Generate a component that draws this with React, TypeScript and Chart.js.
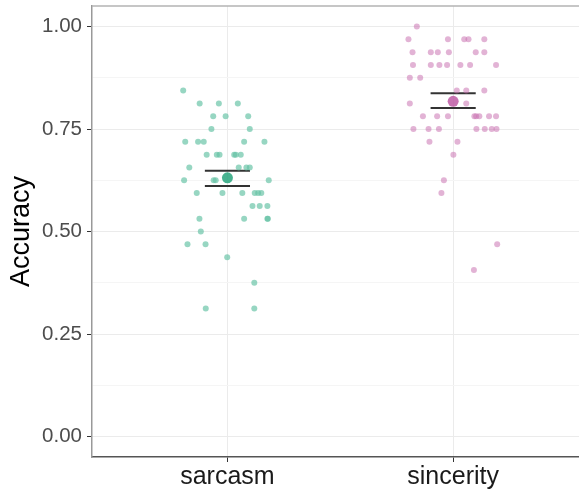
import React, { useEffect, useRef } from "react";
import { Chart, registerables } from "chart.js";

Chart.register(...registerables);

const categories = ["sarcasm", "sincerity"];
const categoryPos = [1, 2];

// jittered x positions (category units) and accuracy values
const sarcasmX = [
  0.804,
  0.877, 0.962, 1.046,
  0.937, 0.992, 1.092,
  0.929, 1.099,
  0.813, 0.870, 0.895, 1.074, 1.164,
  0.908, 0.953, 0.965, 1.030, 1.037, 1.059,
  0.831, 1.050, 1.084, 1.099,
  0.808, 0.939, 0.948, 1.183,
  0.864, 0.978, 1.066, 1.121, 1.136, 1.150,
  1.111, 1.143, 1.177,
  0.876, 1.074, 1.177, 1.179,
  0.882,
  0.823, 0.903,
  0.999,
  1.119,
  0.904, 1.119,
];
const sarcasmY = [
  0.84375,
  0.8125, 0.8125, 0.8125,
  0.78125, 0.78125, 0.78125,
  0.75, 0.75,
  0.71875, 0.71875, 0.71875, 0.71875, 0.71875,
  0.6875, 0.6875, 0.6875, 0.6875, 0.6875, 0.6875,
  0.65625, 0.65625, 0.65625, 0.65625,
  0.625, 0.625, 0.625, 0.625,
  0.59375, 0.59375, 0.59375, 0.59375, 0.59375, 0.59375,
  0.5625, 0.5625, 0.5625,
  0.53125, 0.53125, 0.53125, 0.53125,
  0.5,
  0.46875, 0.46875,
  0.4375,
  0.375,
  0.3125, 0.3125,
];

const sincerityX = [
  1.839,
  1.802, 1.977, 2.049, 2.068, 2.138,
  1.820, 1.901, 1.932, 1.981, 2.100, 2.138,
  1.822, 1.901, 1.939, 1.973, 2.032, 2.075, 2.190,
  1.808, 1.854,
  2.016, 2.058, 2.138,
  1.808, 2.058,
  1.866, 1.929, 1.977, 2.094, 2.102, 2.116, 2.159, 2.190,
  1.824, 1.891, 1.937, 2.103, 2.140, 2.171, 2.192,
  1.895, 2.019,
  2.001,
  1.959,
  1.948,
  2.195,
  2.092,
];
const sincerityY = [
  1.0,
  0.96875, 0.96875, 0.96875, 0.96875, 0.96875,
  0.9375, 0.9375, 0.9375, 0.9375, 0.9375, 0.9375,
  0.90625, 0.90625, 0.90625, 0.90625, 0.90625, 0.90625, 0.90625,
  0.875, 0.875,
  0.84375, 0.84375, 0.84375,
  0.8125, 0.8125,
  0.78125, 0.78125, 0.78125, 0.78125, 0.78125, 0.78125, 0.78125, 0.78125,
  0.75, 0.75, 0.75, 0.75, 0.75, 0.75, 0.75,
  0.71875, 0.71875,
  0.6875,
  0.625,
  0.59375,
  0.46875,
  0.40625,
];

const means = [0.631, 0.8175];
const ciLow = [0.611, 0.801];
const ciHigh = [0.648, 0.837];
const errHalfWidth = 0.1;

const yTicks = [0, 0.125, 0.25, 0.375, 0.5, 0.625, 0.75, 0.875, 1.0];

const pointColors = ["rgba(102,194,165,0.68)", "rgba(200,110,175,0.52)"];
const meanColors = ["rgba(40,165,125,0.85)", "rgba(190,90,165,0.85)"];

export default function App() {
  const ref = useRef<HTMLCanvasElement | null>(null);

  useEffect(() => {
    if (!ref.current) return;
    const toPts = (xs: number[], ys: number[]) => xs.map((x, i) => ({ x, y: ys[i] }));

    const errSets: any[] = [];
    categoryPos.forEach((c, i) => {
      [ciLow[i], ciHigh[i]].forEach((v) => {
        errSets.push({
          type: "line",
          data: [
            { x: c - errHalfWidth, y: v },
            { x: c + errHalfWidth, y: v },
          ],
          borderColor: "#333333",
          borderWidth: 2,
          pointRadius: 0,
          showLine: true,
          fill: false,
        });
      });
    });

    const topBorder = {
      id: "topBorder",
      afterDraw(chart: any) {
        const { ctx, chartArea } = chart;
        ctx.save();
        ctx.strokeStyle = "#b3b3b3";
        ctx.lineWidth = 1.5;
        ctx.beginPath();
        ctx.moveTo(chartArea.left, chartArea.top);
        ctx.lineTo(chartArea.right, chartArea.top);
        ctx.stroke();
        ctx.restore();
      },
    };

    const chart = new Chart(ref.current, {
      type: "scatter",
      data: {
        datasets: [
          {
            data: toPts(sarcasmX, sarcasmY),
            backgroundColor: pointColors[0],
            borderWidth: 0,
            pointRadius: 3,
          },
          {
            data: toPts(sincerityX, sincerityY),
            backgroundColor: pointColors[1],
            borderWidth: 0,
            pointRadius: 3,
          },
          ...errSets,
          {
            data: categoryPos.map((c, i) => ({ x: c, y: means[i] })),
            backgroundColor: meanColors,
            borderWidth: 0,
            pointRadius: 5.5,
          },
        ],
      },
      options: {
        animation: false,
        responsive: false,
        devicePixelRatio: 1,
        layout: { autoPadding: false, padding: { top: 6, right: 0, left: 0, bottom: 0 } },
        plugins: { legend: { display: false }, tooltip: { enabled: false } },
        scales: {
          x: {
            type: "linear",
            min: 0.4,
            max: 2.5575,
            afterFit: (s: any) => {
              s.height = 34;
              s.paddingLeft = 0;
              s.paddingRight = 0;
            },
            afterBuildTicks: (s: any) => {
              s.ticks = categoryPos.map((v) => ({ value: v }));
            },
            ticks: {
              callback: (v: any) => categories[categoryPos.indexOf(Number(v))] ?? "",
              color: "#1a1a1a",
              font: { family: "'Liberation Sans', Arial, sans-serif", size: 25 },
              padding: 0,
              maxRotation: 0,
            },
            grid: { color: "#ebebeb", lineWidth: 1, tickColor: "#333333", tickLength: 5 },
            border: { color: "#555555", width: 1.5 },
          },
          y: {
            type: "linear",
            min: -0.05,
            max: 1.05,
            afterFit: (s: any) => {
              s.width = 92;
              s.paddingTop = 0;
              s.paddingBottom = 0;
            },
            afterBuildTicks: (s: any) => {
              s.ticks = yTicks.map((v) => ({ value: v }));
            },
            ticks: {
              callback: (v: any) => (Math.abs((Number(v) / 0.25) % 1) < 1e-9 ? Number(v).toFixed(2) : ""),
              color: "#4d4d4d",
              font: { family: "'Liberation Sans', Arial, sans-serif", size: 20.5 },
              padding: 5,
            },
            grid: {
              color: (ctx: any) =>
                Math.abs((ctx.tick.value / 0.25) % 1) < 1e-9 ? "#ebebeb" : "#f5f5f5",
              tickColor: (ctx: any) =>
                Math.abs((ctx.tick.value / 0.25) % 1) < 1e-9 ? "#333333" : "rgba(0,0,0,0)",
              tickLength: 5,
            },
            border: { color: "#999999", width: 1.5 },
            title: {
              display: true,
              text: "Accuracy",
              color: "#000000",
              font: { family: "'Liberation Sans', Arial, sans-serif", size: 27 },
              padding: { top: 5, bottom: 0 },
            },
          },
        },
      },
      plugins: [topBorder],
    } as any);

    return () => chart.destroy();
  }, []);

  return (
    <div style={{ position: "fixed", left: 0, top: 0, width: 579, height: 491, background: "#fff" }}>
      <canvas ref={ref} width={579} height={491} style={{ width: 579, height: 491 }} />
    </div>
  );
}
